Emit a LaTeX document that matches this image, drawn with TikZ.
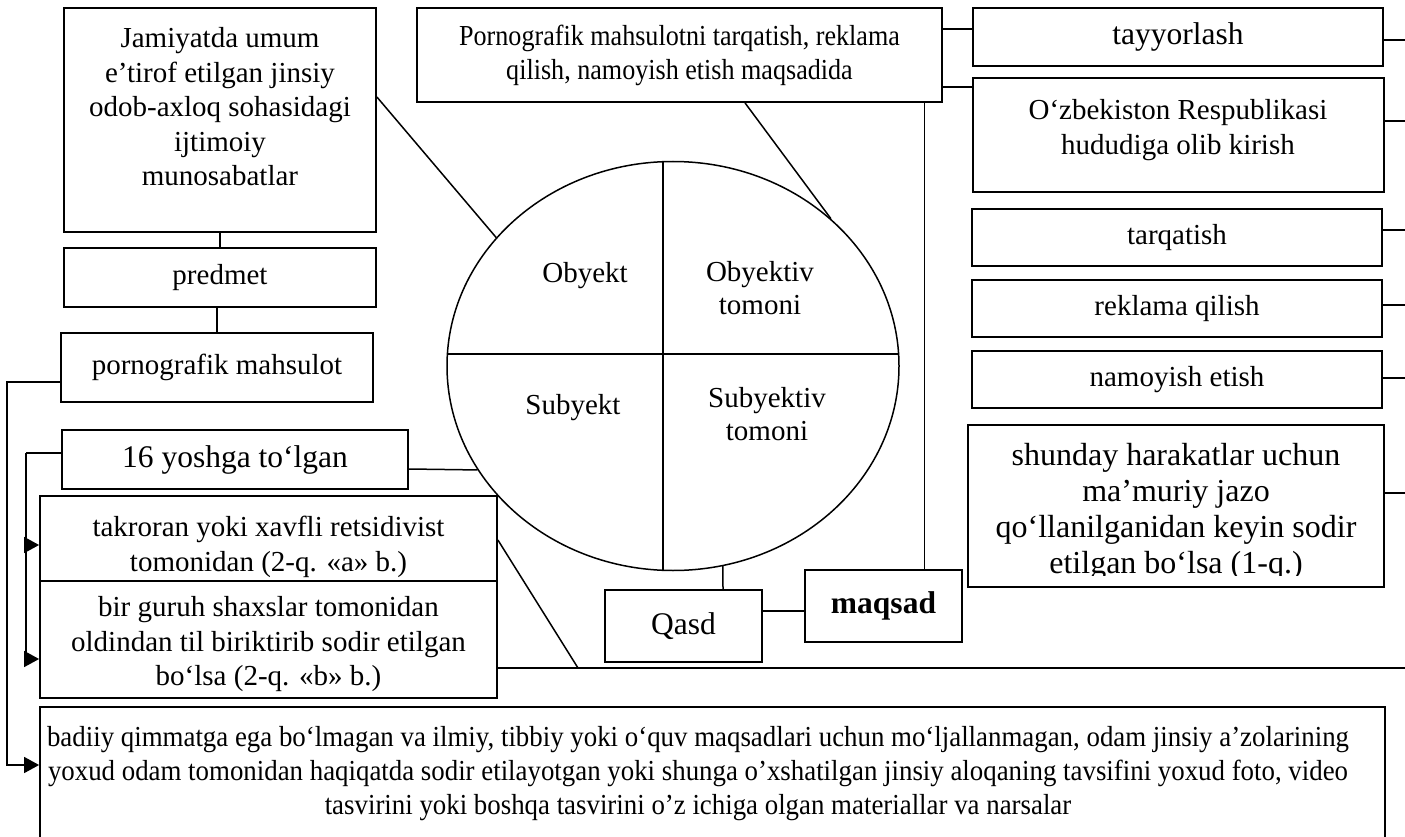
\documentclass[tikz,border=0pt]{standalone}
\usepackage{fontspec}
\setmainfont{Liberation Serif}
\newfontfamily\condfont{Liberation Serif}[FakeStretch=0.9]
\newfontfamily\condfontb{Liberation Serif}[FakeStretch=0.926]
\usetikzlibrary{shapes.geometric,arrows.meta}
\begin{document}
\begin{tikzpicture}[x=1pt,y=-1pt,
  box/.style={draw, line width=1.8pt, rectangle, inner sep=0pt, align=center, font=\fontsize{29}{34.5}\selectfont},
  txt/.style={inner sep=0pt, align=center, font=\fontsize{29}{34.5}\selectfont},
  ln/.style={line width=1.5pt},
  arr/.style={line width=1.5pt, -{Triangle[length=15pt,width=16pt]}}]
\useasboundingbox (0,0) rectangle (1405,837);
\clip (0,0) rectangle (1405,837);
\fill[white] (0,0) rectangle (1405,837);

% left column
\node[box, minimum width=312pt, minimum height=224pt] (jam) at (220,120) {};
\node[txt] (jamT) at (220,107) {Jamiyatda umum\\e’tirof etilgan jinsiy\\odob-axloq sohasidagi\\ijtimoiy\\munosabatlar};
\node[box, minimum width=312pt, minimum height=59pt] (pred) at (220,277.5) {predmet};
\node[box, minimum width=312pt, minimum height=69pt] (porn) at (217,367.5) {pornografik mahsulot};
\node[box, minimum width=346pt, minimum height=59pt, font=\fontsize{31.5}{36}\selectfont] (yosh) at (235,459.5) {16 yoshga to‘lgan};
\node[box, minimum width=457pt, minimum height=85pt] (takr) at (268.5,538.5) {};
\node[txt] (takrT) at (268.5,547) {takroran yoki xavfli retsidivist\\tomonidan (2-q. «a» b.)};
\node[box, minimum width=457pt, minimum height=117pt] (bir) at (268.5,639.5) {};
\node[txt] (birT) at (268.5,644.5) {bir guruh shaxslar tomonidan\\oldindan til biriktirib sodir etilgan\\bo‘lsa (2-q. «b» b.)};

% bottom box
\node[box, minimum width=1345pt, minimum height=163pt] (bot) at (712.5,788.5) {};
\node[txt, font=\condfontb\fontsize{29}{34}\selectfont] (botT) at (698,774) {badiiy qimmatga ega bo‘lmagan va ilmiy, tibbiy yoki o‘quv maqsadlari uchun mo‘ljallanmagan, odam jinsiy a’zolarining\\yoxud odam tomonidan haqiqatda sodir etilayotgan yoki shunga o’xshatilgan jinsiy aloqaning tavsifini yoxud foto, video\\tasvirini yoki boshqa tasvirini o’z ichiga olgan materiallar va narsalar};

% top middle
\node[box, minimum width=525pt, minimum height=94pt, font=\condfont\fontsize{29}{34}\selectfont] (pmt) at (679.5,55) {Pornografik mahsulotni tarqatish, reklama\\qilish, namoyish etish maqsadida};

% right column
\node[box, minimum width=410pt, minimum height=58pt, font=\fontsize{31.5}{36}\selectfont] (tay) at (1178,37) {tayyorlash};
\node[box, minimum width=411pt, minimum height=114pt] (uzb) at (1178.5,135) {};
\node[txt] (uzbT) at (1178,130) {O‘zbekiston Respublikasi\\hududiga olib kirish};
\node[box, minimum width=410pt, minimum height=57pt] (tarq) at (1177,237.5) {tarqatish};
\node[box, minimum width=410pt, minimum height=57pt] (rekl) at (1177,308.5) {reklama qilish};
\node[box, minimum width=410pt, minimum height=57pt] (nam) at (1177,379.5) {namoyish etish};
\node[box, minimum width=416pt, minimum height=162pt] (shun) at (1176,506) {};
\begin{scope}
\clip (968,425) rectangle (1384,575);
\node[txt, font=\fontsize{32}{36}\selectfont] (shunT) at (1176,512) {shunday harakatlar uchun\\ma’muriy jazo\\qo‘llanilganidan keyin sodir\\etilgan bo‘lsa (1-q.)};
\end{scope}

% ellipse
\node[draw, ellipse, line width=1.5pt, inner sep=0pt, minimum width=452pt, minimum height=409pt] (ell) at (673,366) {};
\begin{scope}
\clip (673,366) ellipse [x radius=226pt, y radius=204.5pt];
\draw[ln] (663,150) -- (663,590);
\draw[ln] (430,354) -- (920,354);
\end{scope}
\node[txt] (obj) at (585,276) {Obyekt};
\node[txt, font=\fontsize{29}{32.5}\selectfont] (objt) at (760,288) {Obyektiv\\tomoni};
\node[txt] (sub) at (573,408) {Subyekt};
\node[txt, font=\fontsize{29}{32.5}\selectfont] (subt) at (767,414) {Subyektiv\\tomoni};

% qasd / maqsad
\node[box, minimum width=157pt, minimum height=72pt, font=\fontsize{31.5}{36}\selectfont] (qasd) at (683.5,626) {Qasd};
\node[box, minimum width=157pt, minimum height=72pt, font=\fontsize{31.5}{36}\selectfont\bfseries] (maqs) at (883.5,606) {maqsad};

% connectors
\draw[ln] (jam.south) -- (pred.north);
\draw[ln] (pred.south -| porn.north) -- (porn.north);
\draw[ln] ([yshift=23pt]jam.east) -- (ell.144);
\draw[ln] ([xshift=65.5pt]pmt.south) -- (ell.43);
\draw[ln] ([yshift=26pt]pmt.east) coordinate (p1) -- (p1 -| tay.west);
\draw[ln] ([yshift=-32pt]pmt.east) coordinate (p2) -- (p2 -| uzb.west);
\draw[ln] ([xshift=41pt]maqs.north) coordinate (p3) -- (p3 |- pmt.south);
\draw[ln] ([yshift=-9.5pt]yosh.east) -- (ell.208);
\draw[ln] ([xshift=39.5pt]qasd.north) -- (ell.284);
\draw[ln] ([yshift=15pt]qasd.east) coordinate (p4) -- (p4 -| maqs.west);

\coordinate (redge) at (1405,668);
\coordinate (dend) at (578,668);
\draw[ln] ([yshift=-28.5pt]bir.east) -- (redge);
\draw[ln] ([yshift=-1.5pt]takr.east) -- (dend);

\foreach \n/\s in {tay/-3, uzb/14, tarq/7.5, rekl/3.5, nam/1.5, shun/13}
  \draw[ln] ([yshift=\s pt]\n.east) coordinate (tmp) -- (tmp -| redge);

% left arrows
\draw[arr] ([yshift=-14.5pt]porn.west) -- ++(-53,0) |- ([yshift=23.5pt]bot.west);
\coordinate (yl) at ([xshift=-35pt,yshift=6.5pt]yosh.west);
\coordinate (ta) at ([yshift=-6.5pt]takr.west);
\coordinate (ba) at ([yshift=-19.5pt]bir.west);
\draw[ln] ([yshift=6.5pt]yosh.west) -- (yl);
\draw[arr] (yl) |- (ba);
\draw[arr] (ta -| yl) -- (ta);
\end{tikzpicture}
\end{document}
